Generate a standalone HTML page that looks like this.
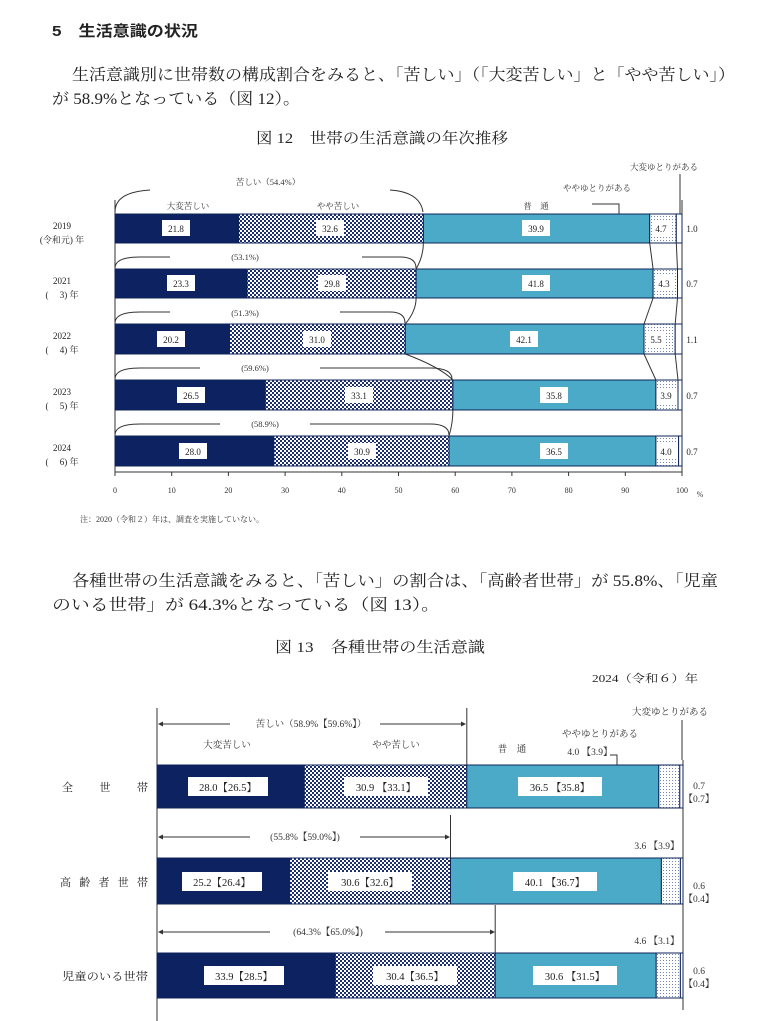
<!DOCTYPE html>
<html><head><meta charset="utf-8"><style>
body{margin:0;background:#fff}
svg{display:block;font-family:"Liberation Serif","Noto Serif CJK SC","Noto Sans CJK JP",serif}
</style></head><body>
<svg width="763" height="1021" viewBox="0 0 763 1021" xmlns="http://www.w3.org/2000/svg">
<defs>
<pattern id="ck" width="4" height="4" patternUnits="userSpaceOnUse"><rect width="4" height="4" fill="#fff"/><rect width="2" height="2" fill="#1b2f72"/><rect x="2" y="2" width="2" height="2" fill="#1b2f72"/></pattern>
<pattern id="dt" width="3" height="3" patternUnits="userSpaceOnUse"><rect width="3" height="3" fill="#fff"/><rect width="1" height="1" fill="#6f86b8"/></pattern>
</defs>
<g fill="#222">
<text x="52" y="36" font-size="15" font-weight="bold" font-family="Liberation Sans,Noto Sans CJK JP,sans-serif" textLength="146" lengthAdjust="spacingAndGlyphs">5　生活意識の状況</text>
<text x="72" y="80" font-size="16" textLength="663" lengthAdjust="spacingAndGlyphs">生活意識別に世帯数の構成割合をみると、「苦しい」（「大変苦しい」と「やや苦しい」）</text>
<text x="52" y="104" font-size="16" textLength="248" lengthAdjust="spacingAndGlyphs">が 58.9%となっている（図 12）。</text>
<text x="256" y="143" font-size="15" textLength="252" lengthAdjust="spacingAndGlyphs">図 12　世帯の生活意識の年次推移</text>
<text x="72" y="586" font-size="16" textLength="646" lengthAdjust="spacingAndGlyphs">各種世帯の生活意識をみると、「苦しい」の割合は、「高齢者世帯」が 55.8%、「児童</text>
<text x="52" y="610" font-size="16" textLength="388" lengthAdjust="spacingAndGlyphs">のいる世帯」が 64.3%となっている（図 13）。</text>
<text x="275" y="652" font-size="15" textLength="210" lengthAdjust="spacingAndGlyphs">図 13　各種世帯の生活意識</text>
<text x="592" y="682" font-size="11" textLength="106" lengthAdjust="spacingAndGlyphs">2024（令和６）年</text>
</g>
<!-- chart 1 -->
<g stroke="#333" stroke-width="1" fill="none">
<line x1="115" y1="200" x2="115" y2="472"/>
<line x1="682" y1="200" x2="682" y2="472"/>
<line x1="115" y1="472" x2="682" y2="472"/>
</g>
<g stroke="#333">
<line x1="115" y1="472" x2="115" y2="476"/><line x1="171.7" y1="472" x2="171.7" y2="476"/><line x1="228.4" y1="472" x2="228.4" y2="476"/><line x1="285.1" y1="472" x2="285.1" y2="476"/><line x1="341.8" y1="472" x2="341.8" y2="476"/><line x1="398.5" y1="472" x2="398.5" y2="476"/><line x1="455.2" y1="472" x2="455.2" y2="476"/><line x1="511.9" y1="472" x2="511.9" y2="476"/><line x1="568.6" y1="472" x2="568.6" y2="476"/><line x1="625.3" y1="472" x2="625.3" y2="476"/><line x1="682" y1="472" x2="682" y2="476"/>
</g>
<g font-size="8" fill="#333" text-anchor="middle">
<text x="115" y="493">0</text><text x="171.7" y="493">10</text><text x="228.4" y="493">20</text><text x="285.1" y="493">30</text><text x="341.8" y="493">40</text><text x="398.5" y="493">50</text><text x="455.2" y="493">60</text><text x="511.9" y="493">70</text><text x="568.6" y="493">80</text><text x="625.3" y="493">90</text><text x="682" y="493">100</text><text x="700" y="497">%</text>
</g>
<text x="80" y="522" font-size="8" fill="#333">注：2020（令和２）年は、調査を実施していない。</text>
<g stroke="#0f2458" stroke-width="1">
<rect x="115" y="214" width="123.6" height="29" fill="#0d2260"/><rect x="238.6" y="214" width="184.8" height="29" fill="url(#ck)"/><rect x="423.4" y="214" width="226.3" height="29" fill="#4aaac7"/><rect x="649.7" y="214" width="26.6" height="29" fill="url(#dt)"/><rect x="676.3" y="214" width="5.7" height="29" fill="#fff"/>
<rect x="115" y="269" width="132.1" height="29" fill="#0d2260"/><rect x="247.1" y="269" width="169" height="29" fill="url(#ck)"/><rect x="416.1" y="269" width="237" height="29" fill="#4aaac7"/><rect x="653.1" y="269" width="24.4" height="29" fill="url(#dt)"/><rect x="677.5" y="269" width="4.5" height="29" fill="#fff"/>
<rect x="115" y="324" width="114.5" height="30" fill="#0d2260"/><rect x="229.5" y="324" width="175.8" height="30" fill="url(#ck)"/><rect x="405.3" y="324" width="238.7" height="30" fill="#4aaac7"/><rect x="644" y="324" width="31.2" height="30" fill="url(#dt)"/><rect x="675.2" y="324" width="6.8" height="30" fill="#fff"/>
<rect x="115" y="380" width="150.3" height="30" fill="#0d2260"/><rect x="265.3" y="380" width="187.6" height="30" fill="url(#ck)"/><rect x="452.9" y="380" width="203" height="30" fill="#4aaac7"/><rect x="655.9" y="380" width="22.1" height="30" fill="url(#dt)"/><rect x="678" y="380" width="4" height="30" fill="#fff"/>
<rect x="115" y="436" width="158.8" height="30" fill="#0d2260"/><rect x="273.8" y="436" width="175.2" height="30" fill="url(#ck)"/><rect x="449" y="436" width="206.9" height="30" fill="#4aaac7"/><rect x="655.9" y="436" width="22.7" height="30" fill="url(#dt)"/><rect x="678.6" y="436" width="3.4" height="30" fill="#fff"/>
</g>
<g stroke="#333" fill="none" stroke-width="1">
<path d="M423.4 243 Q423.4 256 416.1 269"/><path d="M416.1 298 Q416.1 311 405.3 324"/><path d="M405.3 354 Q440 367 452.9 380"/><path d="M452.9 410 Q452.9 423 449 436"/>
<path d="M649.7 243 L653.1 269"/><path d="M653.1 298 L644 324"/><path d="M644 354 L655.9 380"/><path d="M676.3 243 L677.5 269"/><path d="M677.5 298 L675.2 324"/><path d="M675.2 354 L678 380"/>
<path d="M115 212 Q115 192 150 190"/><path d="M390 190 Q420 192 423 212"/>
<path d="M115 268 Q115 257 140 257 L170 257"/><path d="M362 257 L400 257 Q416 257 416 268"/>
<path d="M115 323 Q115 312 140 312 L170 312"/><path d="M340 312 L390 312 Q405 312 405 323"/>
<path d="M115 379 Q115 368 140 368 L200 368"/><path d="M320 368 L430 368 Q452 368 452 379"/>
<path d="M115 435 Q115 424 140 424 L220 424"/><path d="M310 424 L430 424 Q449 424 449 435"/>
<path d="M592 204 L619 204 L619 214"/><path d="M680 174 L680 214"/>
</g>
<g font-size="8.5" fill="#333" text-anchor="middle">
<text x="268" y="185">苦しい（54.4%）</text><text x="188" y="209">大変苦しい</text><text x="338" y="209">やや苦しい</text><text x="536" y="209">普　通</text>
<text x="597" y="191">ややゆとりがある</text><text x="664" y="170">大変ゆとりがある</text>
<text x="245" y="260">(53.1%)</text><text x="245" y="316">(51.3%)</text><text x="255" y="371">(59.6%)</text><text x="265" y="427">(58.9%)</text>
</g>
<g font-size="9" fill="#222" text-anchor="middle">
<text x="62" y="229">2019</text><text x="62" y="243">(令和元) 年</text>
<text x="62" y="284">2021</text><text x="62" y="298">(　 3) 年</text>
<text x="62" y="339">2022</text><text x="62" y="353">(　 4) 年</text>
<text x="62" y="395">2023</text><text x="62" y="409">(　 5) 年</text>
<text x="62" y="451">2024</text><text x="62" y="465">(　 6) 年</text>
</g>
<g fill="#fff"><rect x="162" y="220" width="28" height="16"/><rect x="316" y="220" width="28" height="16"/><rect x="522" y="220" width="28" height="16"/><rect x="652" y="221" width="19" height="15"/>
<rect x="167" y="275" width="28" height="16"/><rect x="318" y="275" width="28" height="16"/><rect x="522" y="275" width="28" height="16"/><rect x="655" y="276" width="19" height="15"/>
<rect x="157" y="331" width="28" height="16"/><rect x="303" y="331" width="28" height="16"/><rect x="510" y="331" width="28" height="16"/><rect x="647" y="332" width="19" height="15"/>
<rect x="177" y="387" width="28" height="16"/><rect x="345" y="387" width="28" height="16"/><rect x="540" y="387" width="28" height="16"/><rect x="657" y="388" width="19" height="15"/>
<rect x="179" y="443" width="28" height="16"/><rect x="348" y="443" width="28" height="16"/><rect x="540" y="443" width="28" height="16"/><rect x="657" y="444" width="19" height="15"/></g>
<g font-size="9" fill="#222" text-anchor="middle">
<text x="176" y="232">21.8</text><text x="330" y="232">32.6</text><text x="536" y="232">39.9</text><text x="661" y="232">4.7</text><text x="692" y="232">1.0</text>
<text x="181" y="287">23.3</text><text x="332" y="287">29.8</text><text x="536" y="287">41.8</text><text x="664" y="287">4.3</text><text x="692" y="287">0.7</text>
<text x="171" y="343">20.2</text><text x="317" y="343">31.0</text><text x="524" y="343">42.1</text><text x="656" y="343">5.5</text><text x="692" y="343">1.1</text>
<text x="191" y="399">26.5</text><text x="359" y="399">33.1</text><text x="554" y="399">35.8</text><text x="666" y="399">3.9</text><text x="692" y="399">0.7</text>
<text x="193" y="455">28.0</text><text x="362" y="455">30.9</text><text x="554" y="455">36.5</text><text x="666" y="455">4.0</text><text x="692" y="455">0.7</text>
</g>
<!-- chart 2 -->
<g stroke="#333" fill="none">
<line x1="157" y1="708" x2="157" y2="1021"/>
<line x1="466.8" y1="708" x2="466.8" y2="765"/><line x1="450.5" y1="815" x2="450.5" y2="858"/><line x1="495.2" y1="905" x2="495.2" y2="953"/>
<line x1="683" y1="760" x2="683" y2="1010"/>
<line x1="160" y1="724" x2="230" y2="724"/><line x1="380" y1="724" x2="464" y2="724"/>
<line x1="160" y1="837" x2="250" y2="837"/><line x1="360" y1="837" x2="448" y2="837"/>
<line x1="160" y1="932" x2="270" y2="932"/><line x1="385" y1="932" x2="493" y2="932"/>
<path d="M610 755 L617 755 L617 765"/><path d="M682 720 L682 760"/>
</g>
<g fill="#333"><path d="M158 724 l5 -2.5 v5z"/><path d="M466 724 l-5 -2.5 v5z"/><path d="M158 837 l5 -2.5 v5z"/><path d="M450 837 l-5 -2.5 v5z"/><path d="M158 932 l5 -2.5 v5z"/><path d="M495 932 l-5 -2.5 v5z"/></g>
<g stroke="#0f2458">
<rect x="157" y="765" width="147.3" height="43" fill="#0d2260"/><rect x="304.3" y="765" width="162.5" height="43" fill="url(#ck)"/><rect x="466.8" y="765" width="192" height="43" fill="#4aaac7"/><rect x="658.8" y="765" width="21" height="43" fill="url(#dt)"/><rect x="679.8" y="765" width="3.2" height="43" fill="#fff"/>
<rect x="157" y="858" width="132.6" height="46" fill="#0d2260"/><rect x="289.6" y="858" width="160.9" height="46" fill="url(#ck)"/><rect x="450.5" y="858" width="210.9" height="46" fill="#4aaac7"/><rect x="661.4" y="858" width="19" height="46" fill="url(#dt)"/><rect x="680.4" y="858" width="2.6" height="46" fill="#fff"/>
<rect x="157" y="953" width="178.3" height="45" fill="#0d2260"/><rect x="335.3" y="953" width="159.9" height="45" fill="url(#ck)"/><rect x="495.2" y="953" width="161" height="45" fill="#4aaac7"/><rect x="656.2" y="953" width="24.2" height="45" fill="url(#dt)"/><rect x="680.4" y="953" width="2.6" height="45" fill="#fff"/>
</g>
<g fill="#fff"><rect x="188" y="777" width="80" height="19"/><rect x="344" y="777" width="84" height="19"/><rect x="518" y="777" width="84" height="19"/>
<rect x="182" y="872" width="80" height="19"/><rect x="328" y="872" width="84" height="19"/><rect x="513" y="872" width="84" height="19"/>
<rect x="204" y="966" width="80" height="19"/><rect x="373" y="966" width="84" height="19"/><rect x="533" y="966" width="84" height="19"/></g>
<g font-size="10.5" fill="#222" text-anchor="middle">
<text x="228" y="791">28.0【26.5】</text><text x="386" y="791">30.9 【33.1】</text><text x="560" y="791">36.5 【35.8】</text>
<text x="222" y="886">25.2【26.4】</text><text x="370" y="886">30.6【32.6】</text><text x="555" y="886">40.1 【36.7】</text>
<text x="244" y="980">33.9【28.5】</text><text x="415" y="980">30.4【36.5】</text><text x="575" y="980">30.6 【31.5】</text>
</g>
<g font-size="9.5" fill="#333" text-anchor="middle">
<text x="311" y="727">苦しい（58.9%【59.6%】）</text><text x="227" y="748">大変苦しい</text><text x="396" y="748">やや苦しい</text><text x="512" y="752">普　通</text>
<text x="600" y="737">ややゆとりがある</text><text x="670" y="715">大変ゆとりがある</text><text x="590" y="755">4.0 【3.9】</text>
<text x="305" y="840">(55.8%【59.0%】)</text><text x="328" y="935">(64.3%【65.0%】)</text>
<text x="657" y="849">3.6 【3.9】</text><text x="657" y="944">4.6 【3.1】</text>
<text x="699" y="789">0.7</text><text x="699" y="802">【0.7】</text>
<text x="699" y="889">0.6</text><text x="699" y="902">【0.4】</text>
<text x="699" y="974">0.6</text><text x="699" y="987">【0.4】</text>
</g>
<g font-size="11" fill="#222">
<text x="62" y="791" textLength="86" lengthAdjust="spacing">全　世　帯</text><text x="60" y="886" textLength="88" lengthAdjust="spacing">高 齢 者 世 帯</text><text x="62" y="980" textLength="86" lengthAdjust="spacingAndGlyphs">児童のいる世帯</text>
</g>
</svg>
</body></html>
